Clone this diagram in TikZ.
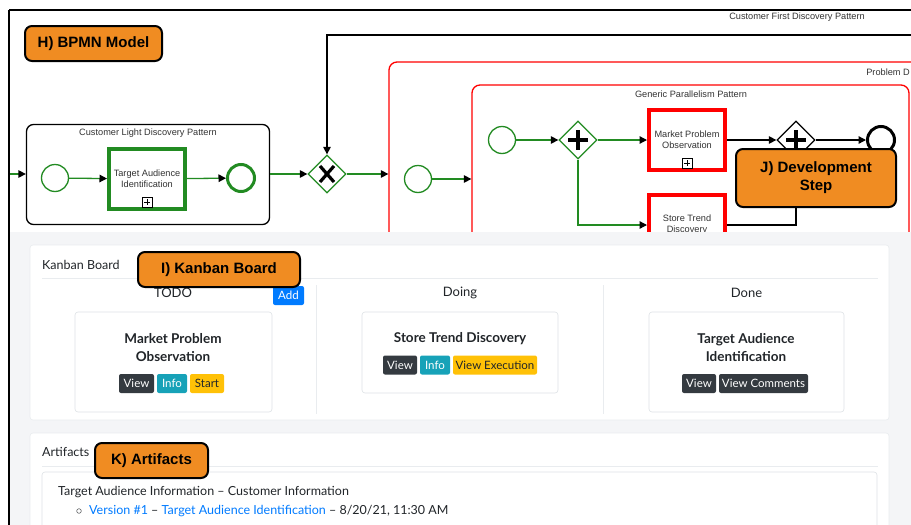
\documentclass[tikz,border=0pt]{standalone}
\usepackage{fontspec}
\setmainfont{Liberation Sans}
\newfontfamily\ui{Lato}
\usetikzlibrary{arrows.meta,shapes.geometric,calc}
\definecolor{bgreen}{RGB}{34,139,34}
\definecolor{bred}{RGB}{255,0,0}
\definecolor{orng}{RGB}{240,140,34}
\definecolor{pagebg}{RGB}{244,245,247}
\definecolor{txt}{RGB}{33,37,41}
\definecolor{btndark}{RGB}{52,58,64}
\definecolor{btninfo}{RGB}{23,162,184}
\definecolor{btnwarn}{RGB}{255,193,7}
\definecolor{btnblue}{RGB}{0,123,255}
\definecolor{linkblue}{RGB}{0,123,255}
\definecolor{cardline}{RGB}{222,226,230}
\definecolor{sepline}{RGB}{233,236,239}
\definecolor{bpmntxt}{RGB}{51,51,51}
\begin{document}
\begin{tikzpicture}[x=1pt,y=-1pt,
  tip/.style={-{Triangle[length=7.5pt,width=7.5pt,color=black]}},
  flow/.style={draw=bgreen,line width=1.3pt,tip},
  bflow/.style={draw=black,line width=1.3pt,tip},
  startev/.style={circle,draw=bgreen,line width=1.3pt,minimum size=27pt,inner sep=0pt,fill=white},
  endev/.style={circle,draw=bgreen,line width=3pt,minimum size=27pt,inner sep=0pt,fill=white},
  bendev/.style={endev,draw=black},
  gate/.style={diamond,draw=bgreen,line width=1.3pt,minimum size=38pt,inner sep=0pt,fill=white},
  bgate/.style={gate,draw=black},
  task/.style={rectangle,line width=4pt,minimum width=76pt,minimum height=60pt,fill=white,
    align=center,font=\fontsize{9.2}{11}\selectfont,text=bpmntxt},
  gtask/.style={task,draw=bgreen},
  rtask/.style={task,draw=bred},
  iconbox/.style={draw=black,line width=0.6pt,minimum size=10pt,inner sep=0pt,fill=white,
    path picture={\draw[line width=0.9pt] ([yshift=-2pt]path picture bounding box.north) -- ([yshift=2pt]path picture bounding box.south);
      \draw[line width=0.9pt] ([xshift=2pt]path picture bounding box.west) -- ([xshift=-2pt]path picture bounding box.east);}},
  lbl/.style={font=\fontsize{9.2}{11}\selectfont,text=bpmntxt,inner sep=0pt},
  callout/.style={fill=orng,draw=black,line width=2pt,rounded corners=7pt,align=center,
    font=\bfseries\fontsize{15}{18}\selectfont,inner sep=0pt},
  card/.style={fill=white,draw=cardline,line width=0.6pt,rounded corners=3pt,inner sep=0pt},
  btn/.style={rounded corners=2pt,minimum height=19pt,inner sep=0pt,font=\ui\fontsize{11.5}{13}\selectfont},
  dbtn/.style={btn,fill=btndark,text=white},
  ibtn/.style={btn,fill=btninfo,text=white},
  wbtn/.style={btn,fill=btnwarn,text=txt},
  colhead/.style={font=\ui\fontsize{13}{15}\selectfont,text=txt,inner sep=0pt},
  ctitle/.style={font=\ui\bfseries\fontsize{13.5}{18}\selectfont,text=txt,align=center,inner sep=0pt},
  body/.style={font=\ui\fontsize{12.5}{15}\selectfont,text=txt,inner sep=0pt,anchor=west}]
\useasboundingbox (0,0) rectangle (911,525);
\clip (0,0) rectangle (911,525);
\fill[white] (0,0) rectangle (911,525);

% ---------- BPMN ----------
\draw[line width=1.8pt] (9,10) -- (911,10);
\node[lbl] (cfdp) at (797,17) {Customer First Discovery Pattern};

% red pool and generic pattern
\node[draw=bred,line width=1.3pt,rounded corners=8pt,minimum width=571pt,minimum height=258pt,inner sep=0pt] (rp) at (674.5,191) {};
\node[lbl,anchor=east] (pdl) at (910,72) {Problem D};
\node[draw=bred,line width=1.3pt,rounded corners=8pt,minimum width=437pt,minimum height=245pt,inner sep=0pt] (gp) at (690.5,207.5) {};
\node[lbl] (gpl) at (691,94) {Generic Parallelism Pattern};

% customer light discovery
\node[draw=black,line width=1.3pt,rounded corners=7pt,minimum width=243pt,minimum height=100pt,inner sep=0pt] (cl) at (148,174.5) {};
\node[lbl] (cll) at (148,133) {Customer Light Discovery Pattern};
\node[startev] (s1) at (55,178) {};
\node[gtask] (t1) at (147,179) {Target Audience\\Identification};
\node[iconbox] (i1) at ([yshift=9pt]t1.south) {};
\node[endev] (e1) at (241,178) {};
\coordinate (inl) at (10,174);
\draw[flow] (inl) -- (inl -| cl.west);
\draw[flow] (s1) -- (t1);
\draw[flow] (t1) -- (e1);

% xor gateway
\node[gate] (gx) at (327,174) {};
\draw[line width=3.2pt] ($(gx)+(-7,-8)$) -- ($(gx)+(7,8)$);
\draw[line width=3.2pt] ($(gx)+(-7,8)$) -- ($(gx)+(7,-8)$);
\draw[flow] (cl.east |- gx) -- (gx.west);
\draw[flow] (gx.east) -- (gx -| rp.west);
\coordinate (cf) at (911,35);
\draw[bflow] (cf) -| (gx.north);

% inside red pool
\node[startev] (s2) at (418,179) {};
\draw[flow] (s2) -- (s2 -| gp.west);
\node[startev] (s3) at (502,140) {};
\node[gate] (pg1) at (578,140) {};
\draw[line width=3.6pt] ($(pg1)+(-10,0)$) -- ($(pg1)+(10,0)$);
\draw[line width=3.6pt] ($(pg1)+(0,-10)$) -- ($(pg1)+(0,10)$);
\node[rtask] (mpo) at (687,140) {Market Problem\\Observation};
\node[iconbox] (i2) at ([yshift=9pt]mpo.south) {};
\node[rtask] (st) at (687,225) {Store Trend\\Discovery};
\node[bgate] (pg2) at (796,140) {};
\draw[line width=3.6pt] ($(pg2)+(-10,0)$) -- ($(pg2)+(10,0)$);
\draw[line width=3.6pt] ($(pg2)+(0,-10)$) -- ($(pg2)+(0,10)$);
\node[bendev] (e2) at (881,140) {};
\draw[flow] (s3) -- (pg1);
\draw[flow] (pg1) -- (mpo);
\draw[flow] (pg1.south) |- (st.west);
\draw[bflow] (mpo) -- (pg2);
\draw[bflow] (pg2) -- (e2);
\draw[bflow] (st.east) -| (pg2.south);

% ---------- page background ----------
\fill[pagebg] (10,232) rectangle (911,525);

% ---------- Kanban ----------
\node[card,draw=sepline,minimum width=859pt,minimum height=175pt] (kb) at (459.5,332.5) {};
\node[body] (kbl) at (42,265) {Kanban Board};
\draw[sepline,line width=1pt] (42,278) -- (878,278);
\draw[sepline,line width=1pt] (316,285) -- (316,414);
\draw[sepline,line width=1pt] (603,285) -- (603,414);
\node[colhead] (h1) at (173,293) {TODO};
\node[colhead] (h2) at (460,293) {Doing};
\node[colhead] (h3) at (746.5,293) {Done};
\node[btn,fill=btnblue,text=white,minimum width=31pt] (add) at (288.5,295.5) {Add};

\node[card,minimum width=197pt,minimum height=100pt] (c1) at (173.5,362) {};
\node[ctitle] (c1t) at (173,348) {Market Problem\\Observation};
\node[dbtn,minimum width=35pt] (b11) at (136.5,383.5) {View};
\node[ibtn,minimum width=30pt] (b12) at (172,383.5) {Info};
\node[wbtn,minimum width=34pt] (b13) at (207,383.5) {Start};

\node[card,minimum width=196pt,minimum height=81pt] (c2) at (460,352.5) {};
\node[ctitle] (c2t) at (460,339) {Store Trend Discovery};
\node[dbtn,minimum width=34pt] (b21) at (400,365) {View};
\node[ibtn,minimum width=30pt] (b22) at (435,365) {Info};
\node[wbtn,minimum width=84pt] (b23) at (495,365) {View Execution};

\node[card,minimum width=195pt,minimum height=100pt] (c3) at (746.5,362) {};
\node[ctitle] (c3t) at (746,348) {Target Audience\\Identification};
\node[dbtn,minimum width=34pt] (b31) at (699,383.5) {View};
\node[dbtn,minimum width=89pt] (b32) at (763.5,383.5) {View Comments};

% ---------- Artifacts ----------
\node[card,draw=sepline,minimum width=859pt,minimum height=130pt] (ar) at (459.5,498) {};
\node[body] (arl) at (42,452) {Artifacts};
\draw[sepline,line width=1pt] (42,466) -- (878,466);
\node[card,minimum width=835pt,minimum height=100pt] (ai) at (459.5,522) {};
\node[body] (a1) at (58,492) {Target Audience Information – Customer Information};
\draw[txt!70,line width=0.6pt] (79,511) circle (2.3);
\node[body] (a2) at (89,511) {{\color{linkblue}Version \#1} – {\color{linkblue}Target Audience Identification} – 8/20/21, 11:30 AM};

% frame left
\draw[line width=2pt] (9,10) -- (9,525);

% ---------- callouts ----------
\node[callout,minimum width=137pt,minimum height=35pt] (ch) at (93.5,43.5) {H) BPMN Model};
\node[callout,minimum width=160pt,minimum height=58pt] (cj) at (816,178) {J) Development\\Step};
\node[callout,minimum width=162pt,minimum height=35pt] (ci) at (219,269.5) {I) Kanban Board};
\node[callout,minimum width=113pt,minimum height=35pt] (ck) at (151.5,460.5) {K) Artifacts};
\end{tikzpicture}
\end{document}
